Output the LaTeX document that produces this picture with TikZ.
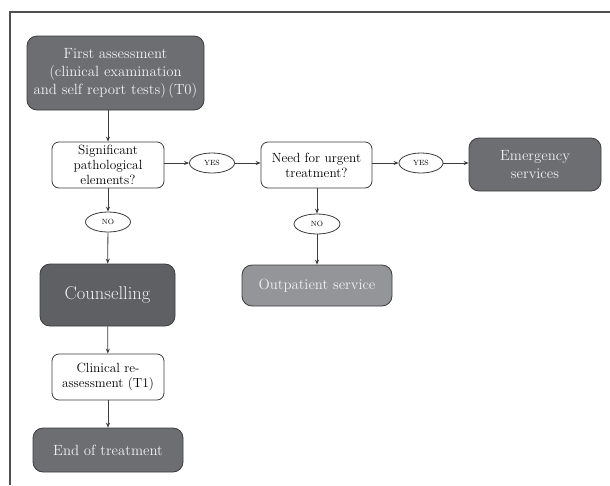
\documentclass[tikz,border=0pt]{standalone}
\usetikzlibrary{arrows.meta,shapes.geometric}

\definecolor{boxdark}{HTML}{6D6E71}
\definecolor{boxdarker}{HTML}{5F6063}
\definecolor{boxlight}{HTML}{949598}
\definecolor{linegray}{HTML}{3C3C3C}
\definecolor{paletext}{HTML}{F2F2F2}

\tikzset{
  darkbox/.style={draw=linegray, fill=boxdark, text=paletext, rounded corners=10pt,
    align=center, inner sep=1pt, line width=0.8pt, font=\fontsize{14.8}{18}\selectfont},
  askbox/.style={draw=linegray, fill=white, rounded corners=7pt, align=center,
    inner sep=1pt, line width=0.8pt, minimum width=112pt, minimum height=46pt,
    font=\fontsize{13.3}{15}\selectfont},
  answer/.style={draw=linegray, ellipse, fill=white, line width=0.8pt, inner sep=0pt,
    minimum width=45pt, minimum height=20pt, font=\fontsize{7.5}{8}\selectfont},
  flow/.style={draw=linegray, line width=0.8pt, -{Stealth[length=5pt,width=4pt]}}
}

\begin{document}
\begin{tikzpicture}[x=1pt,y=-1pt]
\useasboundingbox (0,0) rectangle (610,485);
% frame
\draw[linegray!90, line width=1.5pt] (10,485) -- (10,12) -- (610,12);

% boxes
\node[darkbox, minimum width=177pt, minimum height=74pt] (first) at (115.5,73)
  {First assessment\\(clinical examination\\and self report tests)\,(T0)};
\node[askbox] (signif) at (108,165) {Significant\\pathological\\elements?};
\node[answer] (yesA) at (212,163) {YES};
\node[askbox, minimum width=111pt] (urgent) at (316.5,165) {Need for urgent\\treatment?};
\node[answer, minimum width=44pt] (yesB) at (421,163) {YES};
\node[darkbox, minimum width=132pt, minimum height=53pt] (emerg) at (535,164.5)
  {Emergency\\services};
\node[answer] (noA) at (108,222) {NO};
\node[answer, minimum width=46pt] (noB) at (317,224) {NO};
\node[darkbox, fill=boxlight, minimum width=150pt, minimum height=41pt] (outpat) at (317,285.5)
  {Outpatient service};
\node[darkbox, fill=boxdarker, minimum width=135pt, minimum height=62pt,
  font=\fontsize{18.5}{21}\selectfont] (couns) at (107.5,295) {Counselling};
\node[askbox] (reassess) at (108,377) {Clinical re-\\assessment (T1)};
\node[darkbox, minimum width=150pt, minimum height=44pt] (endtreat) at (108,450)
  {End of treatment};

% connectors
\draw[flow] (first.south -| signif) -- (signif);
\draw[flow] (signif.east |- yesA) -- (yesA);
\draw[flow] (yesA) -- (urgent.west |- yesA);
\draw[flow] (urgent.east |- yesB) -- (yesB);
\draw[flow] (yesB) -- (emerg.west |- yesB);
\draw[flow] (signif) -- (noA);
\draw[flow] (noA) -- (couns);
\draw[flow] (urgent.south -| noB) -- (noB);
\draw[flow] (noB) -- (outpat);
\draw[flow] (couns) -- (reassess);
\draw[flow] (reassess) -- (endtreat);
\end{tikzpicture}
\end{document}
